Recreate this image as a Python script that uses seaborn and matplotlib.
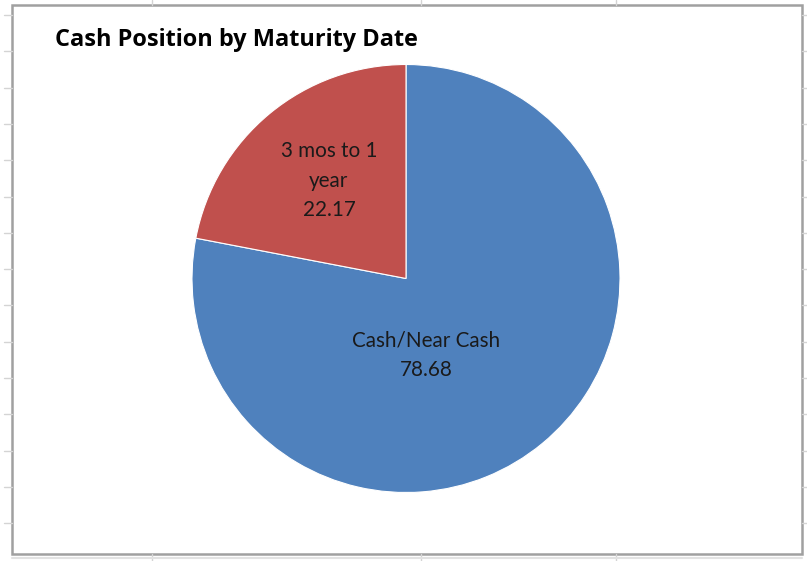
import numpy as np
import seaborn as sns
import matplotlib
matplotlib.use("Agg")
import matplotlib.pyplot as plt
from matplotlib.lines import Line2D
from matplotlib.patches import Rectangle

categories = ["Cash/Near Cash", "3 mos to 1\nyear"]
values = [78.68, 22.17]
colors = ["#4F81BD", "#C0504D"]
title = "Cash Position by Maturity Date"

sns.set_style("white")
plt.rcParams['font.family'] = ['Lato', 'DejaVu Sans']

W, H = 807, 561
fig = plt.figure(figsize=(W / 100, H / 100), dpi=100)

# spreadsheet cell grid peeking out around the chart box
grid = "#D4D4D4"
for y in 15 + 36.3 * np.arange(15):
    fig.add_artist(Line2D([4 / W, 12 / W], [1 - y / H] * 2, color=grid, lw=1))
    fig.add_artist(Line2D([802 / W, 1.0], [1 - y / H] * 2, color=grid, lw=1))
for x in [152, 421, 616]:
    fig.add_artist(Line2D([x / W] * 2, [1 - 5 / H, 1.0], color=grid, lw=1))
    fig.add_artist(Line2D([x / W] * 2, [0.0, 1 - 554 / H], color=grid, lw=1))
fig.add_artist(Line2D([12 / W, 802 / W], [1 - 558 / H] * 2, color="#E2E2E2", lw=1.5))

# chart frame
fig.add_artist(Rectangle((12 / W, 1 - 554 / H), 790 / W, 549 / H,
                         transform=fig.transFigure, fill=False,
                         edgecolor="#A0A0A0", lw=1.8))

cx, cy, r = 406, 278.5, 214
ax = fig.add_axes([(cx - r) / W, (H - cy - r) / H, 2 * r / W, 2 * r / H])
ax.pie(values, colors=colors, startangle=90, counterclock=False, radius=1,
       wedgeprops={"edgecolor": "white", "linewidth": 0.8})
ax.set_xlim(-1, 1)
ax.set_ylim(-1, 1)
ax.axis("off")

label_pos = [(0.095, -0.357), (-0.36, 0.457)]
for cat, val, (lx, ly) in zip(categories, values, label_pos):
    ax.text(lx, ly, f"{cat}\n{val:.2f}", ha="center", va="center",
            fontsize=14.9, linespacing=1.6, color="#1a1a1a")

fig.text(55 / W, 1 - 40 / H, title, ha="left", va="center",
         fontsize=16.9, fontweight="bold", color="black",
         family=["Open Sans", "DejaVu Sans"])

fig.savefig("out.png", dpi=100)
